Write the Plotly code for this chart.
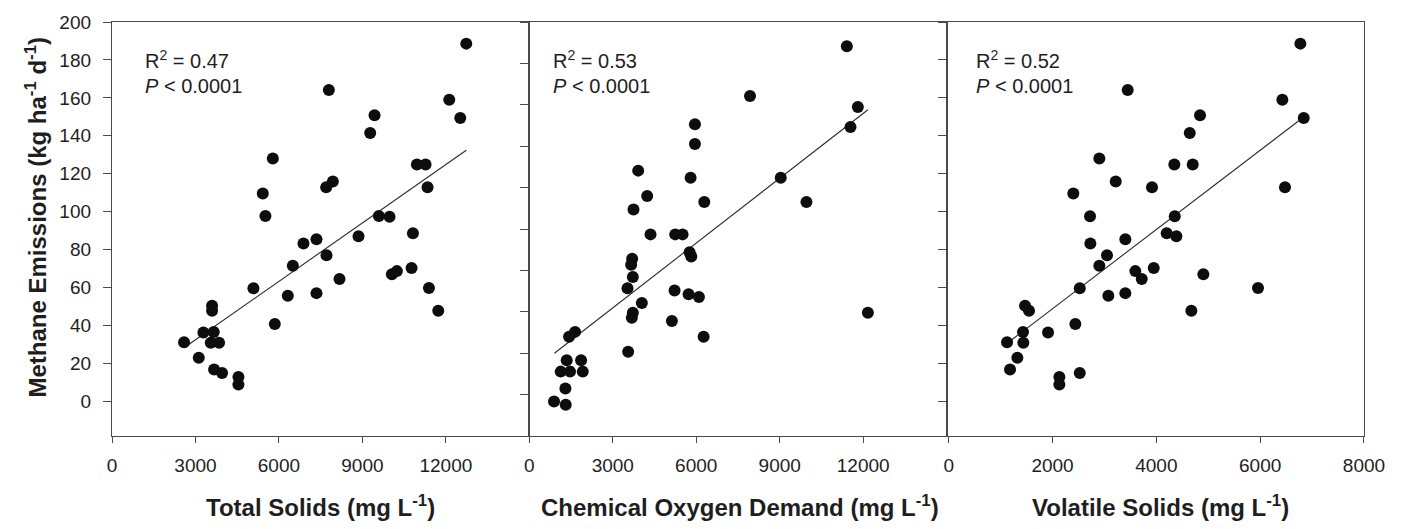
import plotly.graph_objects as go

# ---------------- data ----------------
ts_x = [12733, 7794, 12122, 9436, 12518, 9280, 5780, 10960, 11270, 7938, 7698, 11342,
        5420, 5515, 9592, 9976, 10816, 8860, 7349, 6882, 7710, 6499, 10767, 10240,
        10060, 8177, 11391, 5083, 6319, 7349, 3597, 3597, 11726, 5851, 3285, 3657,
        2590, 3549, 3849, 3118, 3669, 3957, 4544, 4544]
ts_y = [188.6, 164.2, 159.0, 150.8, 149.4, 141.5, 128.1, 124.9, 124.9, 115.9, 112.9, 112.9,
        109.6, 97.7, 97.7, 97.4, 88.6, 87.1, 85.5, 83.2, 77.1, 71.5, 70.3, 68.7,
        67.0, 64.6, 59.8, 59.7, 55.7, 57.1, 50.4, 47.8, 47.8, 40.8, 36.4, 36.6,
        31.2, 31.0, 31.0, 23.0, 16.8, 15.0, 12.9, 8.9]

cod_x = [11412, 7932, 11808, 5952, 11544, 5952, 3912, 5796, 9036, 4236, 6288, 9960,
         3744, 4356, 5244, 5508, 5760, 5820, 3696, 3660, 3720, 3528, 5220, 5724,
         6096, 4044, 3720, 3684, 12168, 5124, 6264, 1644, 1428, 3552, 1344, 1860,
         1128, 1464, 1920, 1296, 888, 1308]
cod_y = [188.3, 164.2, 158.9, 150.6, 149.3, 141.1, 128.2, 124.8, 124.8, 115.9, 113.0, 113.0,
         109.4, 97.4, 97.4, 97.4, 88.8, 86.7, 85.6, 82.7, 76.8, 71.4, 70.3, 68.5,
         67.1, 64.3, 59.5, 57.1, 59.5, 55.5, 47.9, 50.3, 47.9, 40.7, 36.6, 36.6,
         31.1, 31.1, 31.1, 23.0, 16.7, 15.1]

vs_x = [6774, 3448, 6427, 4841, 6839, 4643, 2901, 4346, 4700, 3217, 3916, 6478,
        2400, 2722, 4354, 4199, 4385, 3402, 2728, 3049, 2901, 3949, 3595, 3718,
        4905, 5958, 2524, 3075, 3402, 1470, 1547, 4674, 2439, 1913, 1431, 1123,
        1437, 1322, 1181, 2524, 2131, 2131]
vs_y = [188.6, 164.2, 159.0, 150.8, 149.4, 141.5, 128.1, 124.9, 124.9, 115.9, 112.9, 112.9,
        109.6, 97.6, 97.6, 88.6, 87.1, 85.5, 83.2, 77.1, 71.5, 70.3, 68.7, 64.6,
        67.0, 59.8, 59.7, 55.7, 57.1, 50.4, 47.8, 47.8, 40.8, 36.4, 36.6, 31.2,
        31.0, 23.0, 16.8, 15.0, 12.9, 8.9]

# regression line end points
ts_fit_x = [2590, 12733]
ts_fit_y = [28.3, 132.4]
cod_fit_x = [900, 12170]
cod_fit_y = [40.0, 157.6]
vs_fit_x = [1123, 6839]
vs_fit_y = [30.6, 149.9]

stats = [("0.47", "< 0.0001"), ("0.53", "< 0.0001"), ("0.52", "< 0.0001")]
x_titles = ["Total Solids (mg L<sup>-1</sup>)",
            "Chemical Oxygen Demand (mg L<sup>-1</sup>)",
            "Volatile Solids (mg L<sup>-1</sup>)"]
y_title = "Methane Emissions (kg ha<sup>-1</sup> d<sup>-1</sup>)"
y_ticks = [0, 20, 40, 60, 80, 100, 120, 140, 160, 180, 200]
x_ticks_a = [0, 3000, 6000, 9000, 12000]
x_ticks_c = [0, 2000, 4000, 6000, 8000]

# ---------------- figure ----------------
W, H = 1401, 529
L, R, T, B = 112, 37, 19, 93
FONT = "Arial, Liberation Sans, sans-serif"
AX = "#4a4a4a"
TXT = "#1e1e1e"

fig = go.Figure()
panels = [(ts_x, ts_y, ts_fit_x, ts_fit_y, "x", "y"),
          (cod_x, cod_y, cod_fit_x, cod_fit_y, "x2", "y2"),
          (vs_x, vs_y, vs_fit_x, vs_fit_y, "x3", "y3")]
for px, py, fx, fy, xa, ya in panels:
    fig.add_trace(go.Scatter(x=fx, y=fy, mode="lines", xaxis=xa, yaxis=ya,
                             line=dict(color="#2a2a2a", width=1.1), showlegend=False,
                             hoverinfo="skip"))
    fig.add_trace(go.Scatter(x=px, y=py, mode="markers", xaxis=xa, yaxis=ya,
                             marker=dict(color="#0d0d0d", size=12, line=dict(width=0)),
                             showlegend=False))

common_ax = dict(showline=True, linecolor=AX, linewidth=1.3, mirror=True,
                 ticks="outside", tickcolor=AX, tickwidth=1.3, showgrid=False,
                 zeroline=False, tickfont=dict(family=FONT, size=19, color=TXT))

dom = [[0, 1/3], [1/3, 2/3], [2/3, 1]]
fig.update_layout(
    width=W, height=H, margin=dict(l=L, r=R, t=T, b=B),
    paper_bgcolor="white", plot_bgcolor="white",
    xaxis=dict(domain=dom[0], range=[0, 15000], anchor="y", tickvals=x_ticks_a,
               ticktext=[str(v) for v in x_ticks_a],
               ticklen=6, ticklabelstandoff=6, **common_ax),
    xaxis2=dict(domain=dom[1], range=[0, 15000], anchor="y2", tickvals=x_ticks_a,
                ticktext=[str(v) for v in x_ticks_a],
                ticklen=6, ticklabelstandoff=6, **common_ax),
    xaxis3=dict(domain=dom[2], range=[-40, 8000], anchor="y3", tickvals=x_ticks_c,
                ticktext=[str(v) for v in x_ticks_c],
                ticklen=6, ticklabelstandoff=6, **common_ax),
    yaxis=dict(domain=[0, 1], range=[-18.2, 200], anchor="x", tickvals=y_ticks,
               ticktext=[str(v) for v in y_ticks],
               ticklen=8, ticklabelstandoff=8, **common_ax),
    yaxis2=dict(domain=[0, 1], range=[0, 200], anchor="x2", tickvals=y_ticks,
                ticklen=8, showticklabels=False, **common_ax),
    yaxis3=dict(domain=[0, 1], range=[-18.2, 200], anchor="x3", tickvals=y_ticks,
                ticklen=8, showticklabels=False, **common_ax),
)

pw = W - L - R
ph = H - T - B


def px_x(p):
    return (p - L) / pw


def px_y(p):
    return (H - B - p) / ph


ann_left = [143.3, 551.3, 974.3]
for i, (r2, pv) in enumerate(stats):
    fig.add_annotation(xref="paper", yref="paper", x=px_x(ann_left[i]), y=px_y(57),
                       xanchor="left", yanchor="middle", showarrow=False,
                       text=f"R<sup>2</sup> = {r2}",
                       font=dict(family=FONT, size=20, color=TXT))
    fig.add_annotation(xref="paper", yref="paper", x=px_x(ann_left[i]), y=px_y(83),
                       xanchor="left", yanchor="middle", showarrow=False,
                       text=f"<i>P</i> {pv.replace('<', '&lt;')}",
                       font=dict(family=FONT, size=20, color=TXT))

title_cx = [320.5, 740, 1160]
for i, t in enumerate(x_titles):
    fig.add_annotation(xref="paper", yref="paper", x=px_x(title_cx[i]), y=px_y(507),
                       xanchor="center", yanchor="middle", showarrow=False, text=t,
                       font=dict(family=FONT, size=24, color=TXT, weight="bold"))

fig.add_annotation(xref="paper", yref="paper", x=px_x(36), y=px_y(216),
                   xanchor="center", yanchor="middle", showarrow=False, textangle=-90,
                   text=y_title, font=dict(family=FONT, size=24, color=TXT, weight="bold"))

fig.write_html("out.html")
